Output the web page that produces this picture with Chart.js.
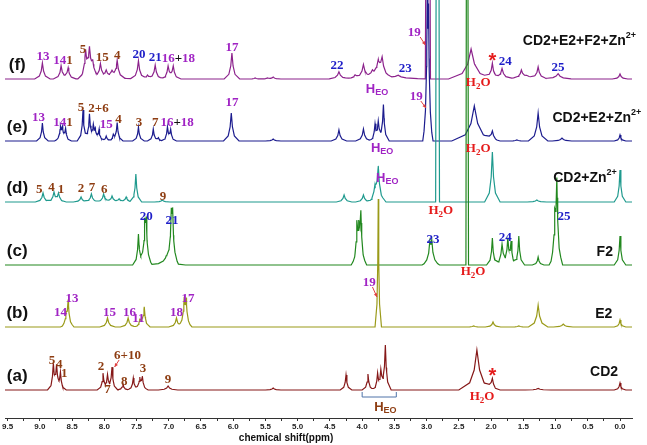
<!DOCTYPE html>
<html>
<head>
<meta charset="utf-8">
<script src="https://cdn.jsdelivr.net/npm/chart.js@4.4.1/dist/chart.umd.min.js"></script>
<style>
  html, body { margin: 0; padding: 0; background: #fff; overflow: hidden; }
  #wrap { position: absolute; left: -20px; top: 0; width: 667px; height: 445px; }
</style>
</head>
<body>
<div id="wrap"><canvas id="nmr"></canvas></div>
<script>
// shift window (ppm), drawn high -> low
const ppmMax = 9.54;
const ppmMin = -0.186;
const tickValues = [];
for (let v = 9.5; v >= -0.001; v -= 0.25) tickValues.push(Math.round(v * 100) / 100);

const traceTags = ['(a)', '(b)', '(c)', '(d)', '(e)', '(f)'];
const traceColors = ['#861818', '#9a9a18', '#22881f', '#1f9a8e', '#1c1c8e', '#8c228c'];
const traceOffsets = [28, 91, 153, 216, 277, 339];

// peaks: [shift (ppm), height, half base width (ppm, optional)]
const peaksA = [
  [8.79, 24], [8.74, 21], [8.68, 16],
  [8.02, 16], [7.95, 13], [7.88, 22], [7.71, 6], [7.55, 12], [7.45, 11], [7.41, 12],
  [7.01, 4, 0.15], [5.38, 2, 0.12],
  [4.25, 15], [3.91, 16], [3.76, 15], [3.71, 16], [3.64, 44],
  [2.22, 40, 0.28], [1.98, 10, 0.12], [1.27, 1.5, 0.2], [0.0, 7]
];
const peaksB = [
  [8.59, 9], [8.56, 25], [7.95, 9, 0.12], [7.63, 9, 0.12], [7.45, 5], [7.42, 5], [7.38, 19],
  [6.88, 9, 0.12], [6.76, 24], [6.73, 23],
  [3.75, 128, 0.05], [2.27, 1, 0.15], [1.97, 5, 0.12], [1.57, 1, 0.15], [1.27, 22, 0.15],
  [0.88, 3, 0.15], [0.0, 7]
];
const peaksC = [
  [7.47, 31], [7.37, 33], [7.35, 35], [7.04, 8, 0.3], [6.96, 38], [6.94, 40],
  [4.08, 34], [4.05, 24], [4.02, 45], [2.95, 17, 0.12], [2.92, 19, 0.12], [2.37, 3000, 0.02],
  [1.98, 27], [1.83, 21, 0.12], [1.74, 23], [1.69, 21], [1.57, 29], [1.27, 8],
  [1.01, 36], [0.98, 78], [0.0, 29]
];
const peaksD = [
  [8.95, 9, 0.12], [8.78, 9, 0.12], [8.71, 8, 0.12], [8.36, 5, 0.12], [8.20, 8, 0.12],
  [8.01, 8, 0.12], [7.88, 6, 0.12], [7.77, 3, 0.12], [7.66, 5, 0.12], [7.51, 28], [7.10, 2, 0.12],
  [4.28, 7, 0.12], [3.98, 7, 0.12], [3.80, 12, 0.12], [3.75, 34, 0.12],
  [2.83, 3000, 0.03], [1.98, 50, 0.12], [1.29, 2, 0.15], [0.0, 32]
];
const peaksE = [
  [8.96, 18], [8.68, 12], [8.65, 10], [8.60, 11], [8.33, 31], [8.23, 26], [8.17, 12], [8.14, 9],
  [8.08, 11], [7.97, 5], [7.86, 5], [7.80, 18], [7.47, 14], [7.24, 12], [7.16, 3], [7.02, 13], [6.97, 10],
  [6.03, 28, 0.12], [5.38, 2, 0.12], [4.36, 11, 0.12], [3.98, 12, 0.12], [3.80, 15], [3.75, 17], [3.67, 36],
  [2.99, 115, 0.07], [2.97, 100, 0.07], [2.26, 35, 0.35], [1.98, 8, 0.12], [1.60, 1, 0.15],
  [1.27, 28, 0.15], [0.90, 3, 0.15], [0.0, 6]
];
const peaksF = [
  [8.96, 16, 0.12], [8.67, 13, 0.12], [8.56, 11, 0.12], [8.29, 25, 0.12], [8.23, 26, 0.12],
  [8.18, 14, 0.12], [8.06, 14, 0.12], [7.97, 6, 0.12], [7.88, 4, 0.12], [7.80, 17, 0.12],
  [7.47, 18, 0.12], [7.33, 4, 0.12], [7.21, 14, 0.12], [7.01, 12, 0.12], [6.93, 12, 0.12], [7.9, 3, 0.6],
  [6.02, 26, 0.12], [5.66, 1, 0.12], [5.47, 1, 0.12], [5.38, 2, 0.12],
  [4.36, 7, 0.15], [4.11, 3, 0.15], [3.98, 13, 0.15], [3.84, 5, 0.15], [3.75, 12, 0.15], [3.69, 17, 0.15],
  [3.75, 4, 0.8], [3.44, 3, 0.3],
  [2.98, 2000, 0.04], [2.31, 30, 0.35], [1.98, 15, 0.12], [1.83, 10, 0.15], [1.53, 7, 0.12],
  [1.27, 11, 0.12], [1.45, 3, 0.8], [0.96, 5, 0.2], [0.0, 5, 0.12]
];
const allPeaks = [peaksA, peaksB, peaksC, peaksD, peaksE, peaksF];

// line shape of one peak, in units of its half base width
const shape = [[-1, 0], [-0.4, 0.18], [-0.15, 0.5], [0, 1], [0.15, 0.5], [0.4, 0.18], [1, 0]];
const defaultWidth = 0.09;

function peakAt(p, x) {
  const w = p[2] || defaultWidth;
  const u = (x - p[0]) / w;
  if (u <= -1 || u >= 1) return 0;
  for (let i = 0; i < shape.length - 1; i++) {
    const a = shape[i], b = shape[i + 1];
    if (u >= a[0] && u <= b[0]) return p[1] * (a[1] + (b[1] - a[1]) * (u - a[0]) / (b[0] - a[0]));
  }
  return 0;
}

function buildTrace(peaks, offset) {
  const xs = [ppmMax, ppmMin];
  peaks.forEach(p => {
    const w = p[2] || defaultWidth;
    shape.forEach(s => xs.push(p[0] + s[0] * w));
  });
  xs.sort((a, b) => b - a);
  return xs.map(x => ({ x: x, y: offset + peaks.reduce((sum, p) => sum + peakAt(p, x), 0) }));
}

// colours for the assignment labels
const P = '#a024c4', BR = '#8e3d12', BL = '#1e1ec8', R = '#e51c1c', K = '#111';
const num = (t, c) => [[t, c, 'n']];
const water = [['H', R, 'n'], ['2', R, 'sub'], ['O', R, 'n']];
const heo = c => [['H', c, 'sans'], ['EO', c, 'sanssub']];
const star = [['*', R, 'star']];
const combo = [['16', P, 'n'], ['+', K, 'n'], ['18', P, 'n']];

// [ppm, level, parts]
const peakLabels = [
  // (f)
  [8.95, 361, num('13', P)], [8.64, 357, [['14', P, 'n'], ['1', BR, 'n']]], [8.33, 368, num('5', BR)],
  [8.03, 360, num('15', BR)], [7.80, 362, num('4', BR)], [7.46, 363, num('20', BL)], [7.21, 360, num('21', BL)],
  [6.85, 359, combo], [6.02, 370, num('17', P)], [4.39, 352, num('22', BL)], [3.77, 329, heo(P)],
  [3.33, 349, num('23', BL)], [3.19, 385, num('19', P)], [2.20, 335, water], [1.98, 361, star],
  [1.78, 356, num('24', BL)], [0.96, 350, num('25', BL)],
  // (e)
  [9.02, 300, num('13', P)], [8.64, 295, [['14', P, 'n'], ['1', BR, 'n']]], [8.36, 310, num('5', BR)],
  [8.09, 309, num('2+6', BR)], [7.97, 293, num('15', P)], [7.78, 298, num('4', BR)], [7.46, 295, num('3', BR)],
  [7.21, 295, num('7', BR)], [6.87, 295, combo], [6.02, 315, num('17', P)], [3.69, 270, heo(P)],
  [3.16, 321, num('19', P)], [2.20, 269, water],
  // (d)
  [9.01, 228, num('5', BR)], [8.82, 230, num('4', BR)], [8.67, 228, num('1', BR)], [8.36, 229, num('2', BR)],
  [8.19, 230, num('7', BR)], [8.00, 228, num('6', BR)], [7.09, 221, num('9', BR)], [3.61, 240, heo(P)],
  [2.78, 207, water],
  // (c)
  [7.35, 201, num('20', BL)], [6.95, 197, num('21', BL)], [2.90, 178, num('23', BL)], [2.28, 146, water],
  [1.78, 180, num('24', BL)], [0.87, 201, num('25', BL)],
  // (b)
  [8.68, 105, num('14', P)], [8.50, 119, num('13', P)], [7.92, 105, num('15', P)], [7.61, 105, num('16', P)],
  [7.47, 99, num('11', P)], [6.88, 105, num('18', P)], [6.70, 119, num('17', P)], [3.89, 135, num('19', P)],
  // (a)
  [8.81, 57, num('5', BR)], [8.70, 53, num('4', BR)], [8.62, 44, num('1', BR)], [8.05, 51, num('2', BR)],
  [7.95, 28, num('7', BR)], [7.64, 62, num('6+10', BR)], [7.69, 36, num('8', BR)], [7.40, 49, num('3', BR)],
  [7.01, 38, num('9', BR)], [3.64, 11, heo(BR)], [2.14, 21, water], [1.98, 46, star]
];

// [ppm from, level from, ppm to, level to]
const arrows = [
  [3.10, 381, 3.02, 373], [3.09, 317, 3.01, 310], [3.84, 131, 3.77, 121], [7.77, 58, 7.84, 51]
];

const sampleNames = [
  [[['CD2', K, 'name']], 46],
  [[['E2', K, 'name']], 104],
  [[['F2', K, 'name']], 166],
  [[['CD2+Zn', K, 'name'], ['2+', K, 'sup']], 240],
  [[['CD2+E2+Zn', K, 'name'], ['2+', K, 'sup']], 300],
  [[['CD2+E2+F2+Zn', K, 'name'], ['2+', K, 'sup']], 377]
];
const nameRightPpm = [0.03, 0.12, 0.11, 0.05, -0.33, -0.25];

const fonts = {
  n: ['bold 13px "Liberation Serif"', 0],
  sub: ['bold 9px "Liberation Serif"', 4],
  sans: ['bold 13px "Liberation Sans"', 0],
  sanssub: ['bold 9px "Liberation Sans"', 4],
  star: ['bold 20px "Liberation Sans"', 4],
  name: ['bold 14px "Liberation Sans"', 0],
  sup: ['bold 9px "Liberation Sans"', -5],
  tag: ['bold 17px "Liberation Sans"', 0]
};

function drawParts(ctx, parts, x, y, align) {
  let total = 0;
  parts.forEach(p => { ctx.font = fonts[p[2]][0]; total += ctx.measureText(p[0]).width; });
  let cx = align === 'right' ? x - total : x - total / 2;
  parts.forEach(p => {
    ctx.font = fonts[p[2]][0];
    ctx.fillStyle = p[1];
    ctx.fillText(p[0], cx, y + fonts[p[2]][1]);
    cx += ctx.measureText(p[0]).width;
  });
}

const annotate = {
  id: 'annotate',
  afterDatasetsDraw(chart) {
    const ctx = chart.ctx, xs = chart.scales.x, ys = chart.scales.y;
    ctx.save();
    ctx.textBaseline = 'middle';
    ctx.textAlign = 'left';
    peakLabels.forEach(l => drawParts(ctx, l[2], xs.getPixelForValue(l[0]), ys.getPixelForValue(l[1])));
    traceTags.forEach((t, i) =>
      drawParts(ctx, [[t, K, 'tag']], xs.getPixelForValue(9.35), ys.getPixelForValue(traceOffsets[i] + 14)));
    sampleNames.forEach((s, i) =>
      drawParts(ctx, s[0], xs.getPixelForValue(nameRightPpm[i]), ys.getPixelForValue(s[1]), 'right'));

    // small red arrows
    ctx.strokeStyle = '#e04040';
    ctx.fillStyle = '#e04040';
    ctx.lineWidth = 1;
    arrows.forEach(a => {
      const x1 = xs.getPixelForValue(a[0]), y1 = ys.getPixelForValue(a[1]);
      const x2 = xs.getPixelForValue(a[2]), y2 = ys.getPixelForValue(a[3]);
      const ang = Math.atan2(y2 - y1, x2 - x1);
      ctx.beginPath(); ctx.moveTo(x1, y1); ctx.lineTo(x2, y2); ctx.stroke();
      ctx.beginPath();
      ctx.moveTo(x2, y2);
      ctx.lineTo(x2 - 4 * Math.cos(ang - 0.45), y2 - 4 * Math.sin(ang - 0.45));
      ctx.lineTo(x2 - 4 * Math.cos(ang + 0.45), y2 - 4 * Math.sin(ang + 0.45));
      ctx.closePath(); ctx.fill();
    });

    // bracket under the H_EO region of CD2
    ctx.strokeStyle = '#4f73a8';
    ctx.beginPath();
    ctx.moveTo(xs.getPixelForValue(4.0), ys.getPixelForValue(26));
    ctx.lineTo(xs.getPixelForValue(4.0), ys.getPixelForValue(21));
    ctx.lineTo(xs.getPixelForValue(3.47), ys.getPixelForValue(21));
    ctx.lineTo(xs.getPixelForValue(3.47), ys.getPixelForValue(26));
    ctx.stroke();

    // axis title
    ctx.font = 'bold 10px "Liberation Sans"';
    ctx.fillStyle = K;
    ctx.textAlign = 'center';
    ctx.fillText('chemical shift(ppm)', xs.getPixelForValue(5.18), xs.bottom - 7);
    ctx.restore();
  }
};

const datasets = allPeaks.map((peaks, i) => ({
  label: traceTags[i],
  data: buildTrace(peaks, traceOffsets[i]),
  borderColor: traceColors[i],
  borderWidth: 1.2,
  pointRadius: 0,
  tension: 0,
  fill: false
}));

new Chart(document.getElementById('nmr'), {
  type: 'line',
  data: { datasets: datasets },
  options: {
    responsive: true,
    maintainAspectRatio: false,
    animation: false,
    layout: { padding: { left: 25, right: 15, top: 0, bottom: 0 } },
    plugins: { legend: { display: false }, tooltip: { enabled: false } },
    scales: {
      x: {
        type: 'linear',
        reverse: true,
        min: ppmMin,
        max: ppmMax,
        afterBuildTicks(scale) { scale.ticks = tickValues.map(v => ({ value: v })); },
        afterFit(scale) { scale.height = 27; },
        ticks: {
          autoSkip: false,
          maxRotation: 0,
          padding: 1,
          color: '#222',
          font: { family: 'Liberation Sans', size: 8, weight: 'bold' },
          callback: v => (Math.abs(v * 2 - Math.round(v * 2)) < 1e-6 ? v.toFixed(1) : '')
        },
        grid: { drawOnChartArea: false, tickLength: 3, color: '#333' },
        border: { color: '#333', width: 1 }
      },
      y: { display: false, min: 0, max: 418 }
    }
  },
  plugins: [annotate]
});
</script>
</body>
</html>
